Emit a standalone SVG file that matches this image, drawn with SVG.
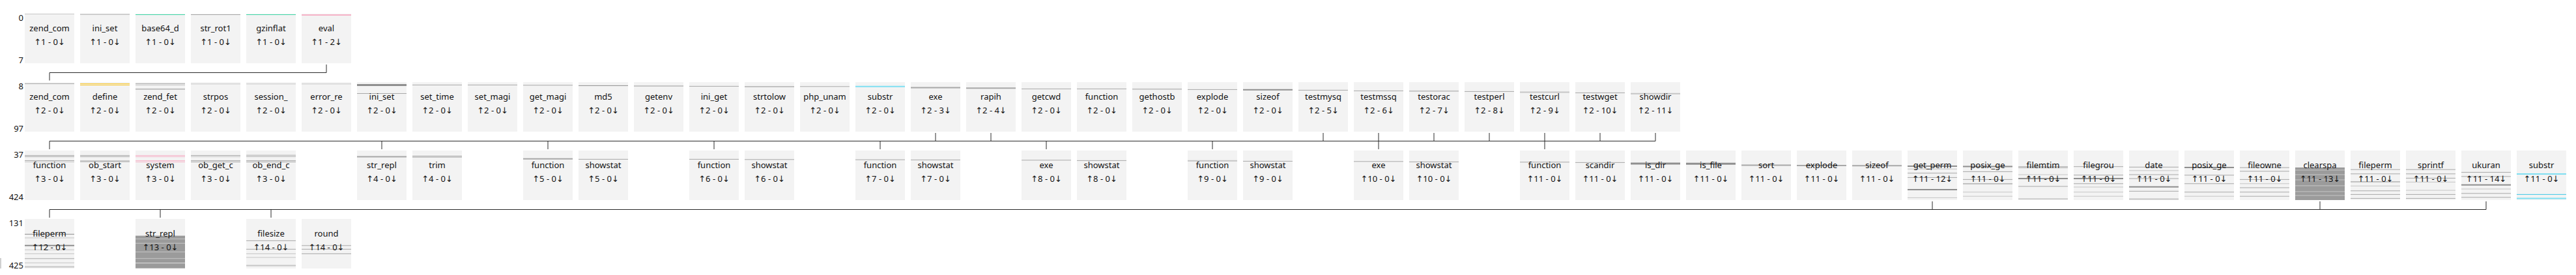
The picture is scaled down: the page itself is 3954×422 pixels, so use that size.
<svg xmlns="http://www.w3.org/2000/svg" width="3954" height="422" viewBox="0 0 3954 422">
<style>
.box{fill:#f3f3f3}
.t{font-family:"Noto Sans","DejaVu Sans",sans-serif;font-size:13px;fill:#111;text-anchor:middle}
.ax{font-family:"Noto Sans","DejaVu Sans",sans-serif;font-size:13px;fill:#111;text-anchor:end}
line{stroke-width:1}
.l{stroke:#c6c6c6}
.m{stroke:#a8a8a8}
.d{stroke:#8f8f8f}
.teal{stroke:#3dd6a6}
.pink{stroke:#f6b3c8}
.yel{stroke:#f7c52a}
.cyan{stroke:#7fdff2}
.cyd{stroke:#3cc9e6}
.w2{stroke-width:2}
.w3{stroke-width:3}
.cn{stroke:#2a2a2a;fill:none;stroke-width:1}
.dense{fill:#9b9b9b}
</style>
<rect width="3954" height="422" fill="#ffffff"/>
<g id="axis">
<text class="ax" x="36" y="32">0</text><text class="ax" x="36" y="97">7</text>
<text class="ax" x="36" y="137">8</text><text class="ax" x="36" y="202">97</text>
<text class="ax" x="36" y="242">37</text><text class="ax" x="36" y="307">424</text>
<text class="ax" x="36" y="347">131</text><text class="ax" x="36" y="412">425</text>
<rect x="0" y="396" width="2" height="16" fill="#d0d0d0"/>
</g>
<g id="connectors">
<path class="cn" d="M501,99 V111.5 H76 V123.5"/>
<path class="cn" d="M76,216.5 H2541"/>
<path class="cn" d="M1436,204 V216.5 M1521,204 V216.5 M2031,204 V216.5 M2116,204 V216.5 M2201,204 V216.5 M2286,204 V216.5 M2371,204 V216.5 M2456,204 V216.5 M2541,204 V216.5"/>
<path class="cn" d="M76,216.5 V229 M586,216.5 V229 M841,216.5 V229 M1096,216.5 V229 M1351,216.5 V229 M1606,216.5 V229 M1861,216.5 V229 M2116,216.5 V229 M2371,216.5 V229"/>
<path class="cn" d="M76,321.5 H3816"/>
<path class="cn" d="M2966,309 V321.5 M3561,309 V321.5 M3816,309 V321.5"/>
<path class="cn" d="M76,321.5 V334 M246,321.5 V334 M416,321.5 V334"/>
</g>

<!-- Row 1 -->
<g id="r1-zend_com"><rect class="box" x="38" y="21" width="76" height="76"/><line class="l" x1="38" x2="114" y1="21.5" y2="21.5"/><text class="t" x="76" y="48">zend_com</text><text class="t" x="76" y="69">↑1 - 0↓</text></g>
<g id="r1-ini_set"><rect class="box" x="123" y="21" width="76" height="76"/><line class="m" x1="123" x2="199" y1="22" y2="22"/><text class="t" x="161" y="48">ini_set</text><text class="t" x="161" y="69">↑1 - 0↓</text></g>
<g id="r1-base64_d"><rect class="box" x="208" y="21" width="76" height="76"/><line class="teal" x1="208" x2="284" y1="22.5" y2="22.5"/><text class="t" x="246" y="48">base64_d</text><text class="t" x="246" y="69">↑1 - 0↓</text></g>
<g id="r1-str_rot1"><rect class="box" x="293" y="21" width="76" height="76"/><line class="m" x1="293" x2="369" y1="22.5" y2="22.5"/><text class="t" x="331" y="48">str_rot1</text><text class="t" x="331" y="69">↑1 - 0↓</text></g>
<g id="r1-gzinflat"><rect class="box" x="378" y="21" width="76" height="76"/><line class="teal" x1="378" x2="454" y1="22.5" y2="22.5"/><text class="t" x="416" y="48">gzinflat</text><text class="t" x="416" y="69">↑1 - 0↓</text></g>
<g id="r1-eval"><rect class="box" x="463" y="21" width="76" height="76"/><line class="pink w2" x1="463" x2="539" y1="23" y2="23"/><text class="t" x="501" y="48">eval</text><text class="t" x="501" y="69">↑1 - 2↓</text></g>

<!-- Row 2 -->
<g id="r2-zend_com"><rect class="box" x="38" y="126" width="76" height="76"/><line class="m" x1="38" x2="114" y1="128.5" y2="128.5"/><text class="t" x="76" y="153">zend_com</text><text class="t" x="76" y="174">↑2 - 0↓</text></g>
<g id="r2-define"><rect class="box" x="123" y="126" width="76" height="76"/><line class="yel" x1="123" x2="199" y1="128.5" y2="128.5"/><line class="yel" x1="123" x2="199" y1="130.5" y2="130.5"/><text class="t" x="161" y="153">define</text><text class="t" x="161" y="174">↑2 - 0↓</text></g>
<g id="r2-zend_fet"><rect class="box" x="208" y="126" width="76" height="76"/><line class="m" x1="208" x2="284" y1="128.5" y2="128.5"/><line class="l" x1="208" x2="284" y1="130.5" y2="130.5"/><line class="d" x1="208" x2="284" y1="136.8" y2="136.8"/><text class="t" x="246" y="153">zend_fet</text><text class="t" x="246" y="174">↑2 - 0↓</text></g>
<g id="r2-strpos"><rect class="box" x="293" y="126" width="76" height="76"/><line class="l" x1="293" x2="369" y1="128.8" y2="128.8"/><text class="t" x="331" y="153">strpos</text><text class="t" x="331" y="174">↑2 - 0↓</text></g>
<g id="r2-session_"><rect class="box" x="378" y="126" width="76" height="76"/><line class="l" x1="378" x2="454" y1="128.8" y2="128.8"/><text class="t" x="416" y="153">session_</text><text class="t" x="416" y="174">↑2 - 0↓</text></g>
<g id="r2-error_re"><rect class="box" x="463" y="126" width="76" height="76"/><line class="l" x1="463" x2="539" y1="128.8" y2="128.8"/><text class="t" x="501" y="153">error_re</text><text class="t" x="501" y="174">↑2 - 0↓</text></g>
<g id="r2-ini_set"><rect class="box" x="548" y="126" width="76" height="76"/><line class="d w3" x1="548" x2="624" y1="130.6" y2="130.6"/><line class="m" x1="548" x2="624" y1="143.5" y2="143.5"/><text class="t" x="586" y="153">ini_set</text><text class="t" x="586" y="174">↑2 - 0↓</text></g>
<g id="r2-set_time"><rect class="box" x="633" y="126" width="76" height="76"/><line class="m" x1="633" x2="709" y1="130.4" y2="130.4"/><text class="t" x="671" y="153">set_time</text><text class="t" x="671" y="174">↑2 - 0↓</text></g>
<g id="r2-set_magi"><rect class="box" x="718" y="126" width="76" height="76"/><line class="m" x1="718" x2="794" y1="130.4" y2="130.4"/><text class="t" x="756" y="153">set_magi</text><text class="t" x="756" y="174">↑2 - 0↓</text></g>
<g id="r2-get_magi"><rect class="box" x="803" y="126" width="76" height="76"/><line class="m" x1="803" x2="879" y1="130.8" y2="130.8"/><text class="t" x="841" y="153">get_magi</text><text class="t" x="841" y="174">↑2 - 0↓</text></g>
<g id="r2-md5"><rect class="box" x="888" y="126" width="76" height="76"/><line class="d" x1="888" x2="964" y1="131.4" y2="131.4"/><text class="t" x="926" y="153">md5</text><text class="t" x="926" y="174">↑2 - 0↓</text></g>
<g id="r2-getenv"><rect class="box" x="973" y="126" width="76" height="76"/><line class="l w2" x1="973" x2="1049" y1="132" y2="132"/><text class="t" x="1011" y="153">getenv</text><text class="t" x="1011" y="174">↑2 - 0↓</text></g>
<g id="r2-ini_get"><rect class="box" x="1058" y="126" width="76" height="76"/><line class="m" x1="1058" x2="1134" y1="132.4" y2="132.4"/><text class="t" x="1096" y="153">ini_get</text><text class="t" x="1096" y="174">↑2 - 0↓</text></g>
<g id="r2-strtolow"><rect class="box" x="1143" y="126" width="76" height="76"/><line class="d" x1="1143" x2="1219" y1="133" y2="133"/><text class="t" x="1181" y="153">strtolow</text><text class="t" x="1181" y="174">↑2 - 0↓</text></g>
<g id="r2-php_unam"><rect class="box" x="1228" y="126" width="76" height="76"/><line class="m" x1="1228" x2="1304" y1="132.8" y2="132.8"/><text class="t" x="1266" y="153">php_unam</text><text class="t" x="1266" y="174">↑2 - 0↓</text></g>
<g id="r2-substr"><rect class="box" x="1313" y="126" width="76" height="76"/><line class="cyan w2" x1="1313" x2="1389" y1="132.8" y2="132.8"/><text class="t" x="1351" y="153">substr</text><text class="t" x="1351" y="174">↑2 - 0↓</text></g>
<g id="r2-exe"><rect class="box" x="1398" y="126" width="76" height="76"/><line class="m w2" x1="1398" x2="1474" y1="134.6" y2="134.6"/><text class="t" x="1436" y="153">exe</text><text class="t" x="1436" y="174">↑2 - 3↓</text></g>
<g id="r2-rapih"><rect class="box" x="1483" y="126" width="76" height="76"/><line class="m w2" x1="1483" x2="1559" y1="135.2" y2="135.2"/><text class="t" x="1521" y="153">rapih</text><text class="t" x="1521" y="174">↑2 - 4↓</text></g>
<g id="r2-getcwd"><rect class="box" x="1568" y="126" width="76" height="76"/><line class="m" x1="1568" x2="1644" y1="136.4" y2="136.4"/><text class="t" x="1606" y="153">getcwd</text><text class="t" x="1606" y="174">↑2 - 0↓</text></g>
<g id="r2-function"><rect class="box" x="1653" y="126" width="76" height="76"/><line class="m" x1="1653" x2="1729" y1="136.4" y2="136.4"/><text class="t" x="1691" y="153">function</text><text class="t" x="1691" y="174">↑2 - 0↓</text></g>
<g id="r2-gethostb"><rect class="box" x="1738" y="126" width="76" height="76"/><line class="l w2" x1="1738" x2="1814" y1="136.8" y2="136.8"/><text class="t" x="1776" y="153">gethostb</text><text class="t" x="1776" y="174">↑2 - 0↓</text></g>
<g id="r2-explode"><rect class="box" x="1823" y="126" width="76" height="76"/><line class="m" x1="1823" x2="1899" y1="137.4" y2="137.4"/><text class="t" x="1861" y="153">explode</text><text class="t" x="1861" y="174">↑2 - 0↓</text></g>
<g id="r2-sizeof"><rect class="box" x="1908" y="126" width="76" height="76"/><line class="d w2" x1="1908" x2="1984" y1="137.8" y2="137.8"/><text class="t" x="1946" y="153">sizeof</text><text class="t" x="1946" y="174">↑2 - 0↓</text></g>
<g id="r2-testmysq"><rect class="box" x="1993" y="126" width="76" height="76"/><line class="m" x1="1993" x2="2069" y1="138.4" y2="138.4"/><text class="t" x="2031" y="153">testmysq</text><text class="t" x="2031" y="174">↑2 - 5↓</text></g>
<g id="r2-testmssq"><rect class="box" x="2078" y="126" width="76" height="76"/><line class="m" x1="2078" x2="2154" y1="139.4" y2="139.4"/><text class="t" x="2116" y="153">testmssq</text><text class="t" x="2116" y="174">↑2 - 6↓</text></g>
<g id="r2-testorac"><rect class="box" x="2163" y="126" width="76" height="76"/><line class="l w2" x1="2163" x2="2239" y1="139.8" y2="139.8"/><text class="t" x="2201" y="153">testorac</text><text class="t" x="2201" y="174">↑2 - 7↓</text></g>
<g id="r2-testperl"><rect class="box" x="2248" y="126" width="76" height="76"/><line class="m" x1="2248" x2="2324" y1="140.4" y2="140.4"/><text class="t" x="2286" y="153">testperl</text><text class="t" x="2286" y="174">↑2 - 8↓</text></g>
<g id="r2-testcurl"><rect class="box" x="2333" y="126" width="76" height="76"/><line class="l w2" x1="2333" x2="2409" y1="141.4" y2="141.4"/><text class="t" x="2371" y="153">testcurl</text><text class="t" x="2371" y="174">↑2 - 9↓</text></g>
<g id="r2-testwget"><rect class="box" x="2418" y="126" width="76" height="76"/><line class="m" x1="2418" x2="2494" y1="142.4" y2="142.4"/><text class="t" x="2456" y="153">testwget</text><text class="t" x="2456" y="174">↑2 - 10↓</text></g>
<g id="r2-showdir"><rect class="box" x="2503" y="126" width="76" height="76"/><line class="l w2" x1="2503" x2="2579" y1="143.8" y2="143.8"/><text class="t" x="2541" y="153">showdir</text><text class="t" x="2541" y="174">↑2 - 11↓</text></g>

<!-- Row 3 -->
<g id="r3-function-a"><rect class="box" x="38" y="231" width="76" height="76"/><line class="m" x1="38" x2="114" y1="238.5" y2="238.5"/><line class="m" x1="38" x2="114" y1="240.5" y2="240.5"/><line class="m" x1="38" x2="114" y1="246.5" y2="246.5"/><line class="l" x1="38" x2="114" y1="248.5" y2="248.5"/><text class="t" x="76" y="258">function</text><text class="t" x="76" y="279">↑3 - 0↓</text></g>
<g id="r3-ob_start"><rect class="box" x="123" y="231" width="76" height="76"/><line class="m" x1="123" x2="199" y1="238.5" y2="238.5"/><line class="m" x1="123" x2="199" y1="240.5" y2="240.5"/><line class="l w2" x1="123" x2="199" y1="247" y2="247"/><line class="l" x1="123" x2="199" y1="248.5" y2="248.5"/><text class="t" x="161" y="258">ob_start</text><text class="t" x="161" y="279">↑3 - 0↓</text></g>
<g id="r3-system"><rect class="box" x="208" y="231" width="76" height="76"/><line class="pink" x1="208" x2="284" y1="238.5" y2="238.5"/><line class="pink" x1="208" x2="284" y1="240.5" y2="240.5"/><line class="pink" x1="208" x2="284" y1="246.5" y2="246.5"/><line class="pink" x1="208" x2="284" y1="248.5" y2="248.5"/><text class="t" x="246" y="258">system</text><text class="t" x="246" y="279">↑3 - 0↓</text></g>
<g id="r3-ob_get_c"><rect class="box" x="293" y="231" width="76" height="76"/><line class="m" x1="293" x2="369" y1="238.5" y2="238.5"/><line class="l" x1="293" x2="369" y1="240.5" y2="240.5"/><line class="m" x1="293" x2="369" y1="246.5" y2="246.5"/><line class="m" x1="293" x2="369" y1="248.5" y2="248.5"/><text class="t" x="331" y="258">ob_get_c</text><text class="t" x="331" y="279">↑3 - 0↓</text></g>
<g id="r3-ob_end_c"><rect class="box" x="378" y="231" width="76" height="76"/><line class="l w2" x1="378" x2="454" y1="238.5" y2="238.5"/><line class="l" x1="378" x2="454" y1="240.5" y2="240.5"/><line class="m" x1="378" x2="454" y1="246.5" y2="246.5"/><line class="m" x1="378" x2="454" y1="248.5" y2="248.5"/><text class="t" x="416" y="258">ob_end_c</text><text class="t" x="416" y="279">↑3 - 0↓</text></g>
<g id="r3-str_repl"><rect class="box" x="548" y="231" width="76" height="76"/><line class="m w2" x1="548" x2="624" y1="240.4" y2="240.4"/><text class="t" x="586" y="258">str_repl</text><text class="t" x="586" y="279">↑4 - 0↓</text></g>
<g id="r3-trim"><rect class="box" x="633" y="231" width="76" height="76"/><line class="m" x1="633" x2="709" y1="239.5" y2="239.5"/><line class="m" x1="633" x2="709" y1="241.2" y2="241.2"/><text class="t" x="671" y="258">trim</text><text class="t" x="671" y="279">↑4 - 0↓</text></g>
<g id="r3-function-5"><rect class="box" x="803" y="231" width="76" height="76"/><line class="m w2" x1="803" x2="879" y1="243.8" y2="243.8"/><text class="t" x="841" y="258">function</text><text class="t" x="841" y="279">↑5 - 0↓</text></g>
<g id="r3-showstat-5"><rect class="box" x="888" y="231" width="76" height="76"/><line class="m" x1="888" x2="964" y1="244.4" y2="244.4"/><text class="t" x="926" y="258">showstat</text><text class="t" x="926" y="279">↑5 - 0↓</text></g>
<g id="r3-function-6"><rect class="box" x="1058" y="231" width="76" height="76"/><line class="m" x1="1058" x2="1134" y1="244.4" y2="244.4"/><text class="t" x="1096" y="258">function</text><text class="t" x="1096" y="279">↑6 - 0↓</text></g>
<g id="r3-showstat-6"><rect class="box" x="1143" y="231" width="76" height="76"/><line class="m" x1="1143" x2="1219" y1="244.8" y2="244.8"/><text class="t" x="1181" y="258">showstat</text><text class="t" x="1181" y="279">↑6 - 0↓</text></g>
<g id="r3-function-7"><rect class="box" x="1313" y="231" width="76" height="76"/><line class="m" x1="1313" x2="1389" y1="245.1" y2="245.1"/><text class="t" x="1351" y="258">function</text><text class="t" x="1351" y="279">↑7 - 0↓</text></g>
<g id="r3-showstat-7"><rect class="box" x="1398" y="231" width="76" height="76"/><line class="m" x1="1398" x2="1474" y1="245.4" y2="245.4"/><text class="t" x="1436" y="258">showstat</text><text class="t" x="1436" y="279">↑7 - 0↓</text></g>
<g id="r3-exe-8"><rect class="box" x="1568" y="231" width="76" height="76"/><line class="m" x1="1568" x2="1644" y1="245.8" y2="245.8"/><text class="t" x="1606" y="258">exe</text><text class="t" x="1606" y="279">↑8 - 0↓</text></g>
<g id="r3-showstat-8"><rect class="box" x="1653" y="231" width="76" height="76"/><line class="m" x1="1653" x2="1729" y1="246.4" y2="246.4"/><text class="t" x="1691" y="258">showstat</text><text class="t" x="1691" y="279">↑8 - 0↓</text></g>
<g id="r3-function-9"><rect class="box" x="1823" y="231" width="76" height="76"/><line class="l w2" x1="1823" x2="1899" y1="246.8" y2="246.8"/><text class="t" x="1861" y="258">function</text><text class="t" x="1861" y="279">↑9 - 0↓</text></g>
<g id="r3-showstat-9"><rect class="box" x="1908" y="231" width="76" height="76"/><line class="m" x1="1908" x2="1984" y1="247.4" y2="247.4"/><text class="t" x="1946" y="258">showstat</text><text class="t" x="1946" y="279">↑9 - 0↓</text></g>
<g id="r3-exe-10"><rect class="box" x="2078" y="231" width="76" height="76"/><line class="m" x1="2078" x2="2154" y1="247.8" y2="247.8"/><text class="t" x="2116" y="258">exe</text><text class="t" x="2116" y="279">↑10 - 0↓</text></g>
<g id="r3-showstat-10"><rect class="box" x="2163" y="231" width="76" height="76"/><line class="m" x1="2163" x2="2239" y1="248.4" y2="248.4"/><text class="t" x="2201" y="258">showstat</text><text class="t" x="2201" y="279">↑10 - 0↓</text></g>
<g id="r3-function-11"><rect class="box" x="2333" y="231" width="76" height="76"/><line class="m" x1="2333" x2="2409" y1="248.8" y2="248.8"/><text class="t" x="2371" y="258">function</text><text class="t" x="2371" y="279">↑11 - 0↓</text></g>
<g id="r3-scandir"><rect class="box" x="2418" y="231" width="76" height="76"/><line class="m" x1="2418" x2="2494" y1="249.4" y2="249.4"/><text class="t" x="2456" y="258">scandir</text><text class="t" x="2456" y="279">↑11 - 0↓</text></g>
<g id="r3-is_dir"><rect class="box" x="2503" y="231" width="76" height="76"/><line class="d w3" x1="2503" x2="2579" y1="251" y2="251"/><text class="t" x="2541" y="258">is_dir</text><text class="t" x="2541" y="279">↑11 - 0↓</text></g>
<g id="r3-is_file"><rect class="box" x="2588" y="231" width="76" height="76"/><line class="d w3" x1="2588" x2="2664" y1="251.3" y2="251.3"/><text class="t" x="2626" y="258">is_file</text><text class="t" x="2626" y="279">↑11 - 0↓</text></g>
<g id="r3-sort"><rect class="box" x="2673" y="231" width="76" height="76"/><line class="m w2" x1="2673" x2="2749" y1="253.4" y2="253.4"/><text class="t" x="2711" y="258">sort</text><text class="t" x="2711" y="279">↑11 - 0↓</text></g>
<g id="r3-explode"><rect class="box" x="2758" y="231" width="76" height="76"/><line class="m w2" x1="2758" x2="2834" y1="254" y2="254"/><text class="t" x="2796" y="258">explode</text><text class="t" x="2796" y="279">↑11 - 0↓</text></g>
<g id="r3-sizeof"><rect class="box" x="2843" y="231" width="76" height="76"/><line class="m w2" x1="2843" x2="2919" y1="254.3" y2="254.3"/><text class="t" x="2881" y="258">sizeof</text><text class="t" x="2881" y="279">↑11 - 0↓</text></g>
<g id="r3-get_perm"><rect class="box" x="2928" y="231" width="76" height="76"/><line class="d w2" x1="2928" x2="3004" y1="255" y2="255"/><line class="l" x1="2928" x2="3004" y1="259.4" y2="259.4"/><line class="m" x1="2928" x2="3004" y1="265.7" y2="265.7"/><line class="m" x1="2928" x2="3004" y1="272.4" y2="272.4"/><line class="d w2" x1="2928" x2="3004" y1="291" y2="291"/><line class="l" x1="2928" x2="3004" y1="303.4" y2="303.4"/><text class="t" x="2966" y="258">get_perm</text><text class="t" x="2966" y="279">↑11 - 12↓</text></g>
<g id="r3-posix_ge-a"><rect class="box" x="3013" y="231" width="76" height="76"/><line class="d w2" x1="3013" x2="3089" y1="255.5" y2="255.5"/><line class="m" x1="3013" x2="3089" y1="263.4" y2="263.4"/><line class="m" x1="3013" x2="3089" y1="275.4" y2="275.4"/><line class="d" x1="3013" x2="3089" y1="282" y2="282"/><line class="l" x1="3013" x2="3089" y1="294.8" y2="294.8"/><line class="l" x1="3013" x2="3089" y1="301.2" y2="301.2"/><text class="t" x="3051" y="258">posix_ge</text><text class="t" x="3051" y="279">↑11 - 0↓</text></g>
<g id="r3-filemtim"><rect class="box" x="3098" y="231" width="76" height="76"/><line class="m" x1="3098" x2="3174" y1="255.7" y2="255.7"/><line class="m" x1="3098" x2="3174" y1="257.4" y2="257.4"/><line class="l" x1="3098" x2="3174" y1="268" y2="268"/><line class="d w2" x1="3098" x2="3174" y1="274" y2="274"/><line class="m" x1="3098" x2="3174" y1="286" y2="286"/><line class="m" x1="3098" x2="3174" y1="305.2" y2="305.2"/><text class="t" x="3136" y="258">filemtim</text><text class="t" x="3136" y="279">↑11 - 0↓</text></g>
<g id="r3-filegrou"><rect class="box" x="3183" y="231" width="76" height="76"/><line class="m" x1="3183" x2="3259" y1="255.7" y2="255.7"/><line class="m" x1="3183" x2="3259" y1="268.7" y2="268.7"/><line class="d w2" x1="3183" x2="3259" y1="274" y2="274"/><line class="m" x1="3183" x2="3259" y1="281.8" y2="281.8"/><line class="l" x1="3183" x2="3259" y1="287" y2="287"/><line class="l" x1="3183" x2="3259" y1="294.8" y2="294.8"/><line class="l" x1="3183" x2="3259" y1="301.2" y2="301.2"/><text class="t" x="3221" y="258">filegrou</text><text class="t" x="3221" y="279">↑11 - 0↓</text></g>
<g id="r3-date"><rect class="box" x="3268" y="231" width="76" height="76"/><line class="m" x1="3268" x2="3344" y1="256.4" y2="256.4"/><line class="l" x1="3268" x2="3344" y1="261.8" y2="261.8"/><line class="m" x1="3268" x2="3344" y1="268" y2="268"/><line class="m" x1="3268" x2="3344" y1="274" y2="274"/><line class="d w2" x1="3268" x2="3344" y1="286.8" y2="286.8"/><line class="m" x1="3268" x2="3344" y1="293.4" y2="293.4"/><line class="l w2" x1="3268" x2="3344" y1="305.4" y2="305.4"/><text class="t" x="3306" y="258">date</text><text class="t" x="3306" y="279">↑11 - 0↓</text></g>
<g id="r3-posix_ge-b"><rect class="box" x="3353" y="231" width="76" height="76"/><line class="d w2" x1="3353" x2="3429" y1="257" y2="257"/><line class="m" x1="3353" x2="3429" y1="268.8" y2="268.8"/><line class="m" x1="3353" x2="3429" y1="281.8" y2="281.8"/><line class="m" x1="3353" x2="3429" y1="294.8" y2="294.8"/><line class="l" x1="3353" x2="3429" y1="301.2" y2="301.2"/><text class="t" x="3391" y="258">posix_ge</text><text class="t" x="3391" y="279">↑11 - 0↓</text></g>
<g id="r3-fileowne"><rect class="box" x="3438" y="231" width="76" height="76"/><line class="m" x1="3438" x2="3514" y1="257.2" y2="257.2"/><line class="m" x1="3438" x2="3514" y1="262.8" y2="262.8"/><line class="m" x1="3438" x2="3514" y1="275.4" y2="275.4"/><line class="l" x1="3438" x2="3514" y1="281.8" y2="281.8"/><line class="m" x1="3438" x2="3514" y1="288" y2="288"/><line class="m" x1="3438" x2="3514" y1="294.8" y2="294.8"/><line class="m" x1="3438" x2="3514" y1="301.2" y2="301.2"/><text class="t" x="3476" y="258">fileowne</text><text class="t" x="3476" y="279">↑11 - 0↓</text></g>
<g id="r3-clearspa"><rect class="box" x="3523" y="231" width="76" height="76"/><rect class="dense" x="3523" y="257" width="76" height="50"/><line class="l" x1="3523" x2="3599" y1="261" y2="261"/><line class="l" x1="3523" x2="3599" y1="268" y2="268"/><line class="l" x1="3523" x2="3599" y1="276" y2="276"/><line class="l" x1="3523" x2="3599" y1="285" y2="285"/><line class="l" x1="3523" x2="3599" y1="294" y2="294"/><line class="l" x1="3523" x2="3599" y1="300" y2="300"/><text class="t" x="3561" y="258">clearspa</text><text class="t" x="3561" y="279">↑11 - 13↓</text></g>
<g id="r3-fileperm"><rect class="box" x="3608" y="231" width="76" height="76"/><line class="m" x1="3608" x2="3684" y1="260.2" y2="260.2"/><line class="m" x1="3608" x2="3684" y1="266.8" y2="266.8"/><line class="d" x1="3608" x2="3684" y1="279" y2="279"/><line class="l" x1="3608" x2="3684" y1="285.4" y2="285.4"/><line class="m" x1="3608" x2="3684" y1="292.8" y2="292.8"/><line class="m" x1="3608" x2="3684" y1="298.4" y2="298.4"/><line class="m" x1="3608" x2="3684" y1="304.4" y2="304.4"/><text class="t" x="3646" y="258">fileperm</text><text class="t" x="3646" y="279">↑11 - 0↓</text></g>
<g id="r3-sprintf"><rect class="box" x="3693" y="231" width="76" height="76"/><line class="m" x1="3693" x2="3769" y1="260.2" y2="260.2"/><line class="m" x1="3693" x2="3769" y1="266.8" y2="266.8"/><line class="m" x1="3693" x2="3769" y1="273.4" y2="273.4"/><line class="l" x1="3693" x2="3769" y1="279.4" y2="279.4"/><line class="l" x1="3693" x2="3769" y1="292" y2="292"/><line class="m" x1="3693" x2="3769" y1="298.4" y2="298.4"/><line class="m" x1="3693" x2="3769" y1="304.4" y2="304.4"/><text class="t" x="3731" y="258">sprintf</text><text class="t" x="3731" y="279">↑11 - 0↓</text></g>
<g id="r3-ukuran"><rect class="box" x="3778" y="231" width="76" height="76"/><line class="m" x1="3778" x2="3854" y1="264.4" y2="264.4"/><line class="m" x1="3778" x2="3854" y1="270.8" y2="270.8"/><line class="d w2" x1="3778" x2="3854" y1="283.8" y2="283.8"/><line class="l" x1="3778" x2="3854" y1="290" y2="290"/><line class="m" x1="3778" x2="3854" y1="296.8" y2="296.8"/><line class="m" x1="3778" x2="3854" y1="302.8" y2="302.8"/><text class="t" x="3816" y="258">ukuran</text><text class="t" x="3816" y="279">↑11 - 14↓</text></g>
<g id="r3-substr"><rect class="box" x="3863" y="231" width="76" height="76"/><line class="cyan w2" x1="3863" x2="3939" y1="267" y2="267"/><line class="cyd" x1="3863" x2="3939" y1="298.4" y2="298.4"/><line class="cyan w2" x1="3863" x2="3939" y1="304.6" y2="304.6"/><text class="t" x="3901" y="258">substr</text><text class="t" x="3901" y="279">↑11 - 0↓</text></g>

<!-- Row 4 -->
<g id="r4-fileperm"><rect class="box" x="38" y="336" width="76" height="76"/><line class="d" x1="38" x2="114" y1="359.4" y2="359.4"/><line class="l" x1="38" x2="114" y1="365" y2="365"/><line class="d w2" x1="38" x2="114" y1="376.8" y2="376.8"/><line class="l" x1="38" x2="114" y1="383.4" y2="383.4"/><line class="l" x1="38" x2="114" y1="389.4" y2="389.4"/><line class="m" x1="38" x2="114" y1="396.8" y2="396.8"/><line class="l" x1="38" x2="114" y1="403.4" y2="403.4"/><line class="l w2" x1="38" x2="114" y1="409.4" y2="409.4"/><text class="t" x="76" y="363">fileperm</text><text class="t" x="76" y="384">↑12 - 0↓</text></g>
<g id="r4-str_repl"><rect class="box" x="208" y="336" width="76" height="76"/><rect class="dense" x="208" y="361.7" width="76" height="50"/><line class="l" x1="208" x2="284" y1="366.7" y2="366.7"/><line class="l" x1="208" x2="284" y1="373.3" y2="373.3"/><line class="l" x1="208" x2="284" y1="386.7" y2="386.7"/><line class="l" x1="208" x2="284" y1="396.7" y2="396.7"/><line stroke="#e2e2e2" x1="208" x2="284" y1="403.7" y2="403.7"/><text class="t" x="246" y="363">str_repl</text><text class="t" x="246" y="384">↑13 - 0↓</text></g>
<g id="r4-filesize"><rect class="box" x="378" y="336" width="76" height="76"/><line class="m" x1="378" x2="454" y1="369.4" y2="369.4"/><line class="m" x1="378" x2="454" y1="382.4" y2="382.4"/><line class="l" x1="378" x2="454" y1="389.4" y2="389.4"/><line class="l" x1="378" x2="454" y1="395" y2="395"/><line class="l w2" x1="378" x2="454" y1="407.4" y2="407.4"/><text class="t" x="416" y="363">filesize</text><text class="t" x="416" y="384">↑14 - 0↓</text></g>
<g id="r4-round"><rect class="box" x="463" y="336" width="76" height="76"/><line class="m" x1="463" x2="539" y1="376.8" y2="376.8"/><line class="m" x1="463" x2="539" y1="382.4" y2="382.4"/><line class="m" x1="463" x2="539" y1="389.4" y2="389.4"/><text class="t" x="501" y="363">round</text><text class="t" x="501" y="384">↑14 - 0↓</text></g>
</svg>
